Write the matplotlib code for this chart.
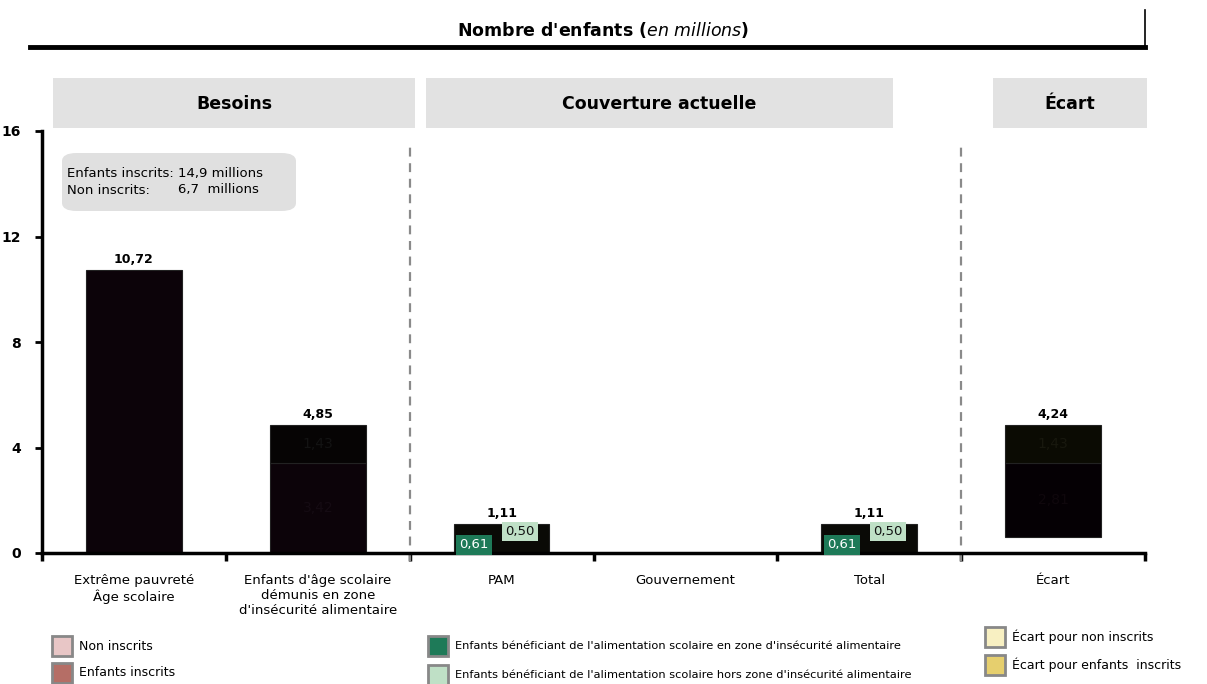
import matplotlib.pyplot as plt
from matplotlib.patches import Rectangle, FancyBboxPatch

# data (millions d'enfants)
categories = ["Extrême pauvreté\nÂge scolaire",
              "Enfants d'âge scolaire\ndémunis en zone\nd'insécurité alimentaire",
              "PAM", "Gouvernement", "Total", "Écart"]
besoins_bas = [10.72, 3.42]
besoins_haut = [0.0, 1.43]
couv_zone = [0.61, 0.0, 0.61]
couv_hors = [0.50, 0.0, 0.50]
ecart_base = 0.61
ecart_bas = 2.81
ecart_haut = 1.43
yticks = [0, 4, 8, 12, 16]

W, H = 1207, 684
fig = plt.figure(figsize=(W / 100, H / 100), dpi=100)
ax = fig.add_axes([42 / W, 1 - 553 / H, (1145 - 42) / W, (553 - 131) / H])

def fmt(v):
    return f"{v:.2f}".replace(".", ",")

bw = 0.52
x = [i + 0.5 for i in range(len(categories))]

# besoins
for i in range(2):
    ax.bar(x[i], besoins_bas[i], bw, color="#0c0309", edgecolor="#222", lw=0.8)
    if besoins_haut[i] > 0:
        ax.bar(x[i], besoins_haut[i], bw, bottom=besoins_bas[i], color="#060404", edgecolor="#222", lw=0.8)
        ax.text(x[i], besoins_bas[i] / 2, fmt(besoins_bas[i]), ha="center", va="center", fontsize=10, color="#150b13")
        ax.text(x[i], besoins_bas[i] + besoins_haut[i] / 2, fmt(besoins_haut[i]), ha="center", va="center",
                fontsize=10, color="#131313")
    tot = besoins_bas[i] + besoins_haut[i]
    ax.text(x[i], tot + 0.15, fmt(tot), ha="center", va="bottom", fontsize=9, fontweight="bold")

# couverture actuelle
for j in range(3):
    xi = x[2 + j]
    tot = couv_zone[j] + couv_hors[j]
    if tot == 0:
        continue
    ax.bar(xi, tot, bw, color="#0a0a06", edgecolor="#222", lw=0.8)
    ax.text(xi - 0.15, couv_zone[j] / 2, fmt(couv_zone[j]), ha="center", va="center", fontsize=9.5,
            color="white", bbox=dict(boxstyle="square,pad=0.25", fc="#1e7a58", ec="none"))
    ax.text(xi + 0.1, couv_zone[j] + couv_hors[j] / 2 - 0.05, fmt(couv_hors[j]), ha="center", va="center",
            fontsize=9.5, color="#111", bbox=dict(boxstyle="square,pad=0.25", fc="#bfe0c6", ec="none"))
    ax.text(xi, tot + 0.15, fmt(tot), ha="center", va="bottom", fontsize=9, fontweight="bold")

# ecart
xe = x[5]
ax.bar(xe, ecart_bas, bw, bottom=ecart_base, color="#050004", edgecolor="#222", lw=0.8)
ax.bar(xe, ecart_haut, bw, bottom=ecart_base + ecart_bas, color="#0b0b03", edgecolor="#222", lw=0.8)
ax.text(xe, ecart_base + ecart_bas / 2, fmt(ecart_bas), ha="center", va="center", fontsize=10, color="#0f070c")
ax.text(xe, ecart_base + ecart_bas + ecart_haut / 2, fmt(ecart_haut), ha="center", va="center", fontsize=10,
        color="#18180e")
ax.text(xe, ecart_base + ecart_bas + ecart_haut + 0.15, fmt(ecart_bas + ecart_haut), ha="center", va="bottom",
        fontsize=9, fontweight="bold")

# axes
ax.set_xlim(0, 6)
ax.set_ylim(0, 16)
ax.set_yticks(yticks)
ax.set_yticklabels([str(t) for t in yticks], fontsize=10, fontweight="bold")
ax.set_xticks(range(7))
ax.set_xticklabels([])
ax.set_xticks(x, minor=True)
ax.set_xticklabels(categories, minor=True, fontsize=9.5, va="top")
ax.tick_params(axis="x", which="minor", length=0, pad=15)
ax.tick_params(axis="x", which="major", length=6, width=2.5)
ax.tick_params(axis="y", length=5, width=2, pad=10)
for s in ["top", "right"]:
    ax.spines[s].set_visible(False)
ax.spines["left"].set_linewidth(2.5)
ax.spines["bottom"].set_linewidth(2.5)

# separateurs
for xs in [2, 5]:
    ax.plot([xs, xs], [-0.3, 15.5], ls=(0, (4, 3)), color="#8a8a8a", lw=1.6, clip_on=False)

# encadre note
note = FancyBboxPatch((62 / W, 1 - 211 / H), 234 / W, 58 / H, boxstyle="round,pad=0,rounding_size=0.012",
                      transform=fig.transFigure, fc="#e0e0e0", ec="none")
fig.add_artist(note)
fig.text(67 / W, 1 - 173 / H, "Enfants inscrits: 14,9 millions", fontsize=9.5, va="center")
fig.text(67 / W, 1 - 190 / H, "Non inscrits:", fontsize=9.5, va="center")
fig.text(178 / W, 1 - 190 / H, "6,7  millions", fontsize=9.5, va="center")

# titre
fig.text(0.5, 1 - 30 / H, "Nombre d'enfants (" + r"$\mathbf{\mathit{en\ millions}}$" + ")", fontsize=12.5,
         fontweight="bold", ha="center", va="center")
fig.add_artist(plt.Line2D([30 / W, 1145 / W], [1 - 47 / H] * 2, color="black", lw=3.5, transform=fig.transFigure))
fig.add_artist(plt.Line2D([1145 / W] * 2, [1 - 10 / H, 1 - 47 / H], color="black", lw=1.2,
                          transform=fig.transFigure))

# bandeaux de section
sections = [("Besoins", 53, 415), ("Couverture actuelle", 426, 893), ("Écart", 993, 1147)]
for lab, x0, x1 in sections:
    fig.add_artist(Rectangle((x0 / W, 1 - 128 / H), (x1 - x0) / W, 50 / H, transform=fig.transFigure,
                             fc="#e2e2e2", ec="none"))
    fig.text((x0 + x1) / 2 / W, 1 - 104 / H, lab, fontsize=12.5, fontweight="bold", ha="center", va="center")

# legendes
legend_items = [("Non inscrits", "#e8c6c6", 52, 646), ("Enfants inscrits", "#b56e66", 52, 673),
                ("Enfants bénéficiant de l'alimentation scolaire en zone d'insécurité alimentaire", "#1e7a58", 428, 646),
                ("Enfants bénéficiant de l'alimentation scolaire hors zone d'insécurité alimentaire", "#bfe0c6", 428, 675),
                ("Écart pour non inscrits", "#f8f0c2", 985, 637), ("Écart pour enfants  inscrits", "#e6cf6e", 985, 665)]
for lab, c, lx, ly in legend_items:
    fig.add_artist(Rectangle((lx / W, 1 - (ly + 10) / H), 20 / W, 20 / H, transform=fig.transFigure,
                             fc=c, ec="#888", lw=2))
    small = lx == 428
    fig.text((lx + 27) / W, 1 - ly / H, lab, fontsize=8.2 if small else 9, va="center")

fig.savefig("out.png", dpi=100)
